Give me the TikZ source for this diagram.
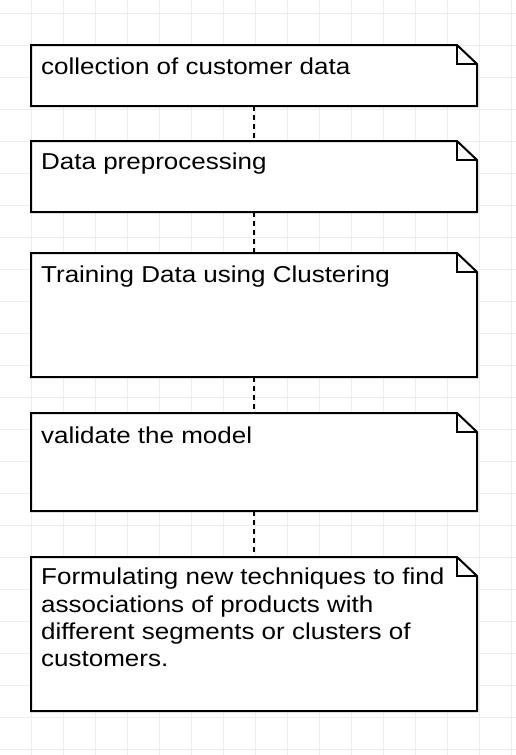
\documentclass[tikz,border=0pt]{standalone}
\usepackage{fontspec}
\setmainfont{Liberation Sans}[FakeStretch=1.13]
\begin{document}
\begin{tikzpicture}[x=1pt,y=-1pt,
  gridline/.style={draw=black!7,line width=1pt},
  notebox/.style={rectangle,draw=none,minimum width=446pt,inner sep=0pt,outer sep=0pt},
  notetext/.style={anchor=base west,inner sep=0pt,font=\fontsize{23}{27.2}\selectfont,align=left,text=black},
  conn/.style={draw=black,line width=2pt,dash pattern=on 5pt off 4pt}]
\useasboundingbox (0,0) rectangle (516,755);
\fill[white] (0,0) rectangle (516,755);
\foreach \k in {1,...,16} \draw[gridline] ({32*\k-0.5},0) -- ({32*\k-0.5},755);
\foreach \k in {0,...,23} \draw[gridline] (0,{13+32*\k}) -- (516,{13+32*\k});
% boxes
\node[notebox,minimum height=61pt] (b1) at (254,75.5) {};
\node[notebox,minimum height=71pt] (b2) at (254,176.5) {};
\node[notebox,minimum height=124pt] (b3) at (254,315) {};
\node[notebox,minimum height=98pt] (b4) at (254,462) {};
\node[notebox,minimum height=154pt] (b5) at (254,634) {};
\foreach \b in {b1,b2,b3,b4,b5}{
  \fill[white] (\b.north west) -- ([xshift=-20pt]\b.north east) -- ([yshift=-19pt]\b.north east) -- (\b.south east) -- (\b.south west) -- cycle;
  \draw[line width=2pt,line join=miter] (\b.north west) -- ([xshift=-20pt]\b.north east) -- ([yshift=-19pt]\b.north east) -- (\b.south east) -- (\b.south west) -- cycle;
  \draw[line width=2pt,line join=miter] ([xshift=-20pt]\b.north east) -- ([xshift=-20pt,yshift=-19pt]\b.north east) -- ([yshift=-19pt]\b.north east);
}
% texts
\node[notetext] (t1) at (41,74.3) {collection of customer data};
\node[notetext] (t2) at (41,169.3) {Data preprocessing};
\node[notetext] (t3) at (41,282) {Training Data using Clustering};
\node[notetext] (t4) at (41,443) {validate the model};
\node[notetext] (t5) at (41,666.5) {Formulating new techniques to find\\associations of products with\\different segments or clusters of\\customers.};
% connectors
\draw[conn] (b1.south) -- (b2.north);
\draw[conn] (b2.south) -- (b3.north);
\draw[conn] (b3.south) -- (b4.north);
\draw[conn] (b4.south) -- (b5.north);
\end{tikzpicture}
\end{document}
